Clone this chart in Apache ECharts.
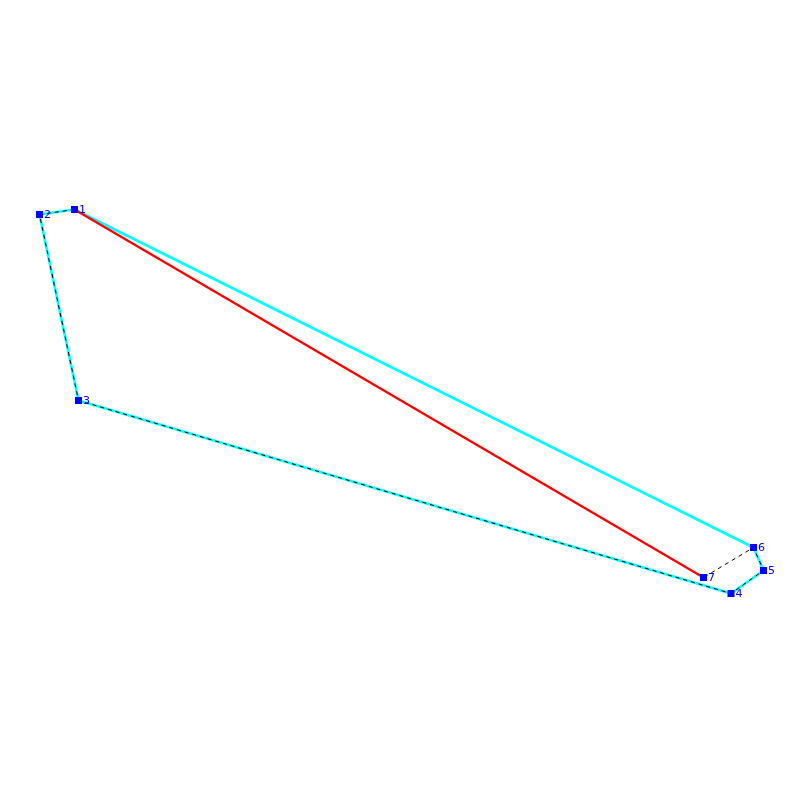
<!DOCTYPE html>
<html>
<head>
<meta charset="utf-8">
<style>html,body{margin:0;padding:0;background:#fff}#c{width:800px;height:800px}</style>
<script src="https://cdn.jsdelivr.net/npm/echarts@6/dist/echarts.min.js"></script>
</head>
<body>
<div id="c"></div>
<script>
var vertexNames = ['1','2','3','4','5','6','7'];
var xValues = [74.5, 39.5, 78.5, 731, 763.5, 753.5, 703.5];
var yValues = [590.5, 585.5, 399.5, 206.5, 229.5, 252.5, 222.5];
var hullPath = [0,1,2,3,4,5,0];
var dashedPath = [0,1,2,3,4,5,6];
var redPath = [6,0];

function pts(path){ return path.map(function(i){ return [xValues[i], yValues[i]]; }); }
function line(path, color, width, type, z){
  return {type:'line', z:z, data:pts(path), symbol:'none', silent:true, animation:false,
    lineStyle:{color:color, width:width, type:type, opacity:1}};
}
var chart = echarts.init(document.getElementById('c'), null, {renderer:'canvas'});
chart.setOption({
  animation:false,
  backgroundColor:'#ffffff',
  grid:{left:0,right:0,top:0,bottom:0},
  xAxis:{type:'value',min:0,max:800,show:false},
  yAxis:{type:'value',min:0,max:800,show:false},
  series:[
    line(hullPath,'#00ffff',2.6,'solid',2),
    line(dashedPath,'#000000',1,[4,4],3),
    line(redPath,'#ff0000',2.3,'solid',4),
    {type:'scatter', z:10, symbol:'rect', symbolSize:7, animation:false,
     itemStyle:{color:'#0000ff', opacity:1},
     data:vertexNames.map(function(n,i){ return {name:n, value:[xValues[i],yValues[i]]}; }),
     label:{show:true, position:'right', distance:1, offset:[0,1], color:'#0000ff',
       fontFamily:'DejaVu Sans', fontSize:11,
       formatter:function(p){ return p.name; }}}
  ]
});
</script>
</body>
</html>
